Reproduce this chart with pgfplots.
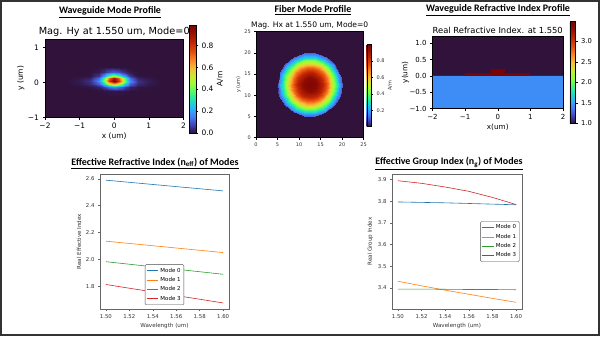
\documentclass[border=0pt]{standalone}
\usepackage{fontspec}
\setmainfont{DejaVu Sans}
\newfontfamily\calfont{Carlito}
\usepackage{pgfplots}
\pgfplotsset{compat=1.18}
\definecolor{tz0}{RGB}{48,18,59}
\definecolor{subst}{RGB}{62,140,245}
\definecolor{core}{RGB}{122,4,3}
\definecolor{c0}{HTML}{1F77B4}
\definecolor{c1}{HTML}{FF7F0E}
\definecolor{c2}{HTML}{2CA02C}
\definecolor{c3}{HTML}{D62728}
\pgfplotsset{
 colormap={turbo}{rgb255(0cm)=(48,18,59) rgb255(8cm)=(65,72,190) rgb255(15cm)=(70,125,245) rgb255(22cm)=(45,175,250) rgb255(30cm)=(27,225,190) rgb255(38cm)=(80,250,110) rgb255(45cm)=(150,254,55) rgb255(52cm)=(200,235,50) rgb255(60cm)=(245,190,55) rgb255(68cm)=(250,130,35) rgb255(76cm)=(225,75,12) rgb255(85cm)=(190,35,3) rgb255(93cm)=(150,15,2) rgb255(100cm)=(122,4,3)},
 /pgf/number format/assume math mode=true,
 every axis title shift=0pt,
 hm/.style={scale only axis, anchor=south west, axis on top, enlargelimits=false,
  tick align=outside, tick pos=left, major tick length=2.5bp,
  every tick/.style={black, line width=0.5bp}, axis line style={line width=0.5bp},
  axis background/.style={fill=tz0}, colormap name=turbo, colorbar,
  xlabel style={inner sep=0pt}, ylabel style={inner sep=0pt},
  title style={inner sep=0pt, anchor=south, at={(0.5,1)}},
  colorbar style={scale only axis, anchor=south west, at={(parent axis.south east)},
   tick align=outside, ytick pos=right, major tick length=2bp,
   every tick/.style={black, line width=0.4bp}, axis line style={line width=0.4bp},
   ylabel style={inner sep=0pt}}},
 lp/.style={scale only axis, anchor=south west, tick align=outside, tick pos=left,
  major tick length=2bp, axis line style={black!60, line width=0.5bp},
  every tick/.style={black!60, line width=0.4bp},
  ticklabel style={font=\fontsize{5.4}{6}\selectfont, text=black!80},
  label style={font=\fontsize{5.6}{6}\selectfont, text=black!80},
  xtick={1.5,1.52,1.54,1.56,1.58,1.6}, xmin=1.495, xmax=1.605,
  xticklabel={\pgfmathprintnumber[fixed,fixed zerofill,precision=2]{\tick}},
  yticklabel={\pgfmathprintnumber[fixed,fixed zerofill,precision=1]{\tick}},
  xlabel={Wavelength (um)}, xlabel style={yshift=2.5bp}, ylabel style={yshift=-2bp},
  legend cell align=left,
  legend style={font=\fontsize{5.5}{6}\selectfont, draw=black!70, rounded corners=1bp,
   inner sep=1.2bp, row sep=-0.3bp},
  legend image code/.code={\draw[##1] (0bp,0bp) -- (11.5bp,0bp);},
  every axis plot/.append style={line width=0.6bp}}
}
\begin{document}
\begin{tikzpicture}[x=1bp,y=1bp]
\useasboundingbox (0,0) rectangle (600,336);
\fill[white] (0,0) rectangle (600,336);

% ---------- Waveguide mode profile ----------
\begin{axis}[hm, at={(45bp,218.7bp)}, width=138.5bp, height=78.3bp,
 xmin=-2, xmax=2, ymin=-1, ymax=1.25,
 xtick={-2,-1,0,1,2}, xticklabels={−2,−1,0,1,2},
 ytick={-1,0,1}, yticklabels={−1,0,1},
 ticklabel style={font=\fontsize{7.5}{8}\selectfont},
 xlabel={x (um)}, ylabel={y (um)}, label style={font=\fontsize{7.5}{8}\selectfont},
 title={Mag. Hy at 1.550 um, Mode=0}, title style={font=\fontsize{9.8}{10}\selectfont, yshift=2bp},
 point meta min=0, point meta max=0.99,
 colorbar style={width=6.7bp, height=107.7bp, xshift=-2.7bp, yshift=-15.4bp,
  ytick={0,0.2,0.4,0.6,0.8}, yticklabels={0.0,0.2,0.4,0.6,0.8},
  ticklabel style={font=\fontsize{7.5}{8}\selectfont},
  ylabel={A/m}, ylabel style={font=\fontsize{7.5}{8}\selectfont}}]
\addplot[surf, shader=interp, mesh/cols=13, point meta=explicit] table[meta index=2, row sep=\\] {
x y v\\
-1.3 -0.45 0\\-1.0 -0.45 0\\-0.7 -0.45 0\\-0.45 -0.45 0\\-0.3 -0.45 0\\-0.15 -0.45 0\\0 -0.45 0\\0.15 -0.45 0\\0.3 -0.45 0\\0.45 -0.45 0\\0.7 -0.45 0\\1.0 -0.45 0\\1.3 -0.45 0\\
-1.3 -0.25 0\\-1.0 -0.25 0\\-0.7 -0.25 0\\-0.45 -0.25 .001\\-0.3 -0.25 .003\\-0.15 -0.25 .006\\0 -0.25 .007\\0.15 -0.25 .006\\0.3 -0.25 .003\\0.45 -0.25 .001\\0.7 -0.25 0\\1.0 -0.25 0\\1.3 -0.25 0\\
-1.3 -0.12 0\\-1.0 -0.12 .002\\-0.7 -0.12 .005\\-0.45 -0.12 .024\\-0.3 -0.12 .067\\-0.15 -0.12 .130\\0 -0.12 .165\\0.15 -0.12 .130\\0.3 -0.12 .067\\0.45 -0.12 .024\\0.7 -0.12 .005\\1.0 -0.12 .002\\1.3 -0.12 0\\
-1.3 -0.03 .002\\-1.0 -0.03 .011\\-0.7 -0.03 .033\\-0.45 -0.03 .110\\-0.3 -0.03 .263\\-0.15 -0.03 .489\\0 -0.03 .609\\0.15 -0.03 .489\\0.3 -0.03 .263\\0.45 -0.03 .110\\0.7 -0.03 .033\\1.0 -0.03 .011\\1.3 -0.03 .002\\
-1.3 0.05 .003\\-1.0 0.05 .015\\-0.7 0.05 .046\\-0.45 0.05 .166\\-0.3 0.05 .414\\-0.15 0.05 .785\\0 0.05 .980\\0.15 0.05 .785\\0.3 0.05 .414\\0.45 0.05 .166\\0.7 0.05 .046\\1.0 0.05 .015\\1.3 0.05 .003\\
-1.3 0.12 .001\\-1.0 0.12 .007\\-0.7 0.12 .023\\-0.45 0.12 .123\\-0.3 0.12 .353\\-0.15 0.12 .704\\0 0.12 .891\\0.15 0.12 .704\\0.3 0.12 .353\\0.45 0.12 .123\\0.7 0.12 .023\\1.0 0.12 .007\\1.3 0.12 .001\\
-1.3 0.2 0\\-1.0 0.2 .001\\-0.7 0.2 .004\\-0.45 0.2 .054\\-0.3 0.2 .180\\-0.15 0.2 .375\\0 0.2 .481\\0.15 0.2 .375\\0.3 0.2 .180\\0.45 0.2 .054\\0.7 0.2 .004\\1.0 0.2 .001\\1.3 0.2 0\\
-1.3 0.3 0\\-1.0 0.3 0\\-0.7 0.3 0\\-0.45 0.3 .011\\-0.3 0.3 .038\\-0.15 0.3 .081\\0 0.3 .105\\0.15 0.3 .081\\0.3 0.3 .038\\0.45 0.3 .011\\0.7 0.3 0\\1.0 0.3 0\\1.3 0.3 0\\
-1.3 0.45 0\\-1.0 0.45 0\\-0.7 0.45 0\\-0.45 0.45 0\\-0.3 0.45 .001\\-0.15 0.45 .001\\0 0.45 .002\\0.15 0.45 .001\\0.3 0.45 .001\\0.45 0.45 0\\0.7 0.45 0\\1.0 0.45 0\\1.3 0.45 0\\
-1.3 0.65 0\\-1.0 0.65 0\\-0.7 0.65 0\\-0.45 0.65 0\\-0.3 0.65 0\\-0.15 0.65 0\\0 0.65 0\\0.15 0.65 0\\0.3 0.65 0\\0.45 0.65 0\\0.7 0.65 0\\1.0 0.65 0\\1.3 0.65 0\\
};
\end{axis}

% ---------- Fiber mode profile ----------
\begin{axis}[hm, at={(256bp,198.3bp)}, width=107.5bp, height=106bp,
 xmin=-12.5, xmax=12.5, ymin=-12.5, ymax=12.5,
 xtick={-12.5,-7.5,-2.5,2.5,7.5,12.5}, xticklabels={0,5,10,15,20,25},
 ytick={-12.5,-7.5,-2.5,2.5,7.5,12.5}, yticklabels={0,5,10,15,20,25},
 major tick length=1.8bp,
 ticklabel style={font=\fontsize{5}{6}\selectfont, text=black!80},
 ylabel={y (um)}, label style={font=\fontsize{5}{6}\selectfont, text=black!80},
 title={Mag. Hx at 1.550 um, Mode=0}, title style={font=\fontsize{7.6}{8}\selectfont, yshift=2.5bp},
 point meta min=0, point meta max=1.0,
 colorbar style={width=4.3bp, height=82.4bp, xshift=-5.3bp, yshift=11bp,
  ytick={0.2,0.4,0.6,0.8}, yticklabels={0.2,0.4,0.6,0.8},
  ticklabel style={font=\fontsize{5}{6}\selectfont, text=black!80},
  ylabel={A/m}, ylabel style={font=\fontsize{5}{6}\selectfont, text=black!80}}]
\addplot[surf, shader=interp, mesh/cols=19, point meta=explicit, data cs=polar] table[x=a, y=r, meta=v, row sep=\\] {
a r v\\
0 0 .99\\20 0 .99\\40 0 .99\\60 0 .99\\80 0 .99\\100 0 .99\\120 0 .99\\140 0 .99\\160 0 .99\\180 0 .99\\200 0 .99\\220 0 .99\\240 0 .99\\260 0 .99\\280 0 .99\\300 0 .99\\320 0 .99\\340 0 .99\\360 0 .99\\
0 1.5 .96\\20 1.5 .96\\40 1.5 .96\\60 1.5 .96\\80 1.5 .96\\100 1.5 .96\\120 1.5 .96\\140 1.5 .96\\160 1.5 .96\\180 1.5 .96\\200 1.5 .96\\220 1.5 .96\\240 1.5 .96\\260 1.5 .96\\280 1.5 .96\\300 1.5 .96\\320 1.5 .96\\340 1.5 .96\\360 1.5 .96\\
0 3 .85\\20 3 .85\\40 3 .85\\60 3 .85\\80 3 .85\\100 3 .85\\120 3 .85\\140 3 .85\\160 3 .85\\180 3 .85\\200 3 .85\\220 3 .85\\240 3 .85\\260 3 .85\\280 3 .85\\300 3 .85\\320 3 .85\\340 3 .85\\360 3 .85\\
0 4.2 .70\\20 4.2 .70\\40 4.2 .70\\60 4.2 .70\\80 4.2 .70\\100 4.2 .70\\120 4.2 .70\\140 4.2 .70\\160 4.2 .70\\180 4.2 .70\\200 4.2 .70\\220 4.2 .70\\240 4.2 .70\\260 4.2 .70\\280 4.2 .70\\300 4.2 .70\\320 4.2 .70\\340 4.2 .70\\360 4.2 .70\\
0 5 .56\\20 5 .56\\40 5 .56\\60 5 .56\\80 5 .56\\100 5 .56\\120 5 .56\\140 5 .56\\160 5 .56\\180 5 .56\\200 5 .56\\220 5 .56\\240 5 .56\\260 5 .56\\280 5 .56\\300 5 .56\\320 5 .56\\340 5 .56\\360 5 .56\\
0 5.8 .42\\20 5.8 .42\\40 5.8 .42\\60 5.8 .42\\80 5.8 .42\\100 5.8 .42\\120 5.8 .42\\140 5.8 .42\\160 5.8 .42\\180 5.8 .42\\200 5.8 .42\\220 5.8 .42\\240 5.8 .42\\260 5.8 .42\\280 5.8 .42\\300 5.8 .42\\320 5.8 .42\\340 5.8 .42\\360 5.8 .42\\
0 6.5 .29\\20 6.5 .29\\40 6.5 .29\\60 6.5 .29\\80 6.5 .29\\100 6.5 .29\\120 6.5 .29\\140 6.5 .29\\160 6.5 .29\\180 6.5 .29\\200 6.5 .29\\220 6.5 .29\\240 6.5 .29\\260 6.5 .29\\280 6.5 .29\\300 6.5 .29\\320 6.5 .29\\340 6.5 .29\\360 6.5 .29\\
0 7.1 .18\\20 7.1 .18\\40 7.1 .18\\60 7.1 .18\\80 7.1 .18\\100 7.1 .18\\120 7.1 .18\\140 7.1 .18\\160 7.1 .18\\180 7.1 .18\\200 7.1 .18\\220 7.1 .18\\240 7.1 .18\\260 7.1 .18\\280 7.1 .18\\300 7.1 .18\\320 7.1 .18\\340 7.1 .18\\360 7.1 .18\\
0 7.5 .12\\20 7.5 .12\\40 7.5 .12\\60 7.5 .12\\80 7.5 .12\\100 7.5 .12\\120 7.5 .12\\140 7.5 .12\\160 7.5 .12\\180 7.5 .12\\200 7.5 .12\\220 7.5 .12\\240 7.5 .12\\260 7.5 .12\\280 7.5 .12\\300 7.5 .12\\320 7.5 .12\\340 7.5 .12\\360 7.5 .12\\
0 7.56 0\\20 7.56 0\\40 7.56 0\\60 7.56 0\\80 7.56 0\\100 7.56 0\\120 7.56 0\\140 7.56 0\\160 7.56 0\\180 7.56 0\\200 7.56 0\\220 7.56 0\\240 7.56 0\\260 7.56 0\\280 7.56 0\\300 7.56 0\\320 7.56 0\\340 7.56 0\\360 7.56 0\\
};
\end{axis}

% ---------- Refractive index profile ----------
\begin{axis}[hm, at={(432.5bp,227.3bp)}, width=130.5bp, height=72.7bp,
 xmin=-2, xmax=2, ymin=-1, ymax=1.22,
 xtick={-2,-1,0,1,2}, xticklabels={−2,−1,0,1,2},
 ytick={-1,-0.5,0,0.5,1}, yticklabels={−1.0,−0.5,0.0,0.5,1.0},
 ticklabel style={font=\fontsize{7}{8}\selectfont},
 xlabel={x(um)}, ylabel={y(um)}, label style={font=\fontsize{7.3}{8}\selectfont},
 ylabel style={at={(axis description cs:-0.18,0.5)}, anchor=south},
 title={Real Refractive Index. at 1.550}, title style={font=\fontsize{8.4}{9}\selectfont, yshift=2bp},
 point meta min=1, point meta max=3.48,
 colorbar style={width=5.7bp, height=101.6bp, xshift=-1.7bp, yshift=-14.6bp,
  ytick={1,1.5,2,2.5,3}, yticklabels={1.0,1.5,2.0,2.5,3.0},
  ticklabel style={font=\fontsize{6.8}{8}\selectfont}}]
\addplot[fill=subst, draw=none] coordinates {(-2,-1) (2,-1) (2,0) (-2,0) (-2,-1)};
\addplot[fill=core, draw=none] coordinates {(-1,0) (1,0) (1,0.085) (-1,0.085) (-1,0)};
\addplot[fill=core, draw=none] coordinates {(-0.22,0) (0.22,0) (0.22,0.2) (-0.22,0.2) (-0.22,0)};
\end{axis}

% ---------- Effective index ----------
\begin{axis}[lp, at={(100bp,27bp)}, width=129bp, height=135bp,
 ymin=1.629, ymax=2.636, ytick={1.8,2.0,2.2,2.4,2.6},
 ylabel={Real Effective Index},
 legend style={at={(0.5,0.03)}, anchor=south}]
\addplot[c0] coordinates {(1.50,2.590) (1.52,2.574) (1.54,2.558) (1.56,2.542) (1.58,2.526) (1.60,2.510)};
\addplot[c1] coordinates {(1.50,2.135) (1.52,2.118) (1.54,2.101) (1.56,2.084) (1.58,2.067) (1.60,2.050)};
\addplot[c2] coordinates {(1.50,1.982) (1.52,1.963) (1.54,1.944) (1.56,1.926) (1.58,1.907) (1.60,1.888)};
\addplot[c3] coordinates {(1.50,1.812) (1.52,1.784) (1.54,1.757) (1.56,1.729) (1.58,1.702) (1.60,1.674)};
\legend{Mode 0,Mode 1,Mode 2,Mode 3}
\end{axis}

% ---------- Group index ----------
\begin{axis}[lp, at={(392bp,27bp)}, width=130bp, height=135bp,
 ymin=3.303, ymax=3.926, ytick={3.4,3.5,3.6,3.7,3.8,3.9},
 ylabel={Real Group Index},
 legend style={at={(0.98,0.5)}, anchor=east}]
\addplot[c0] coordinates {(1.50,3.797) (1.52,3.795) (1.54,3.793) (1.56,3.790) (1.58,3.787) (1.60,3.784)};
\addplot[c1] coordinates {(1.50,3.431) (1.52,3.410) (1.54,3.390) (1.56,3.371) (1.58,3.352) (1.60,3.334)};
\addplot[c2] coordinates {(1.50,3.395) (1.52,3.395) (1.54,3.394) (1.56,3.393) (1.58,3.393) (1.60,3.392)};
\addplot[c3] coordinates {(1.50,3.895) (1.52,3.883) (1.54,3.866) (1.56,3.846) (1.58,3.818) (1.60,3.785)};
\legend{Mode 0,Mode 1,Mode 2,Mode 3}
\end{axis}

% ---------- Titles ----------
\begin{scope}[every node/.style={font=\calfont\bfseries\fontsize{10}{11}\selectfont, inner sep=0pt}]
\node at (110,324) {\underline{Waveguide Mode Profile}};
\node at (313,326) {\underline{Fiber Mode Profile}};
\node at (498,326) {\underline{Waveguide Refractive Index Profile}};
\node at (155,172.7) {\underline{Effective Refractive Index (n\textsubscript{eff}) of Modes}};
\node at (449,172.7) {\underline{Effective Group Index (n\textsubscript{g}) of Modes}};
\end{scope}
\draw[line width=1.6bp, black!80] (0.8,0.8) rectangle (599.2,335.2);
\end{tikzpicture}
\end{document}
